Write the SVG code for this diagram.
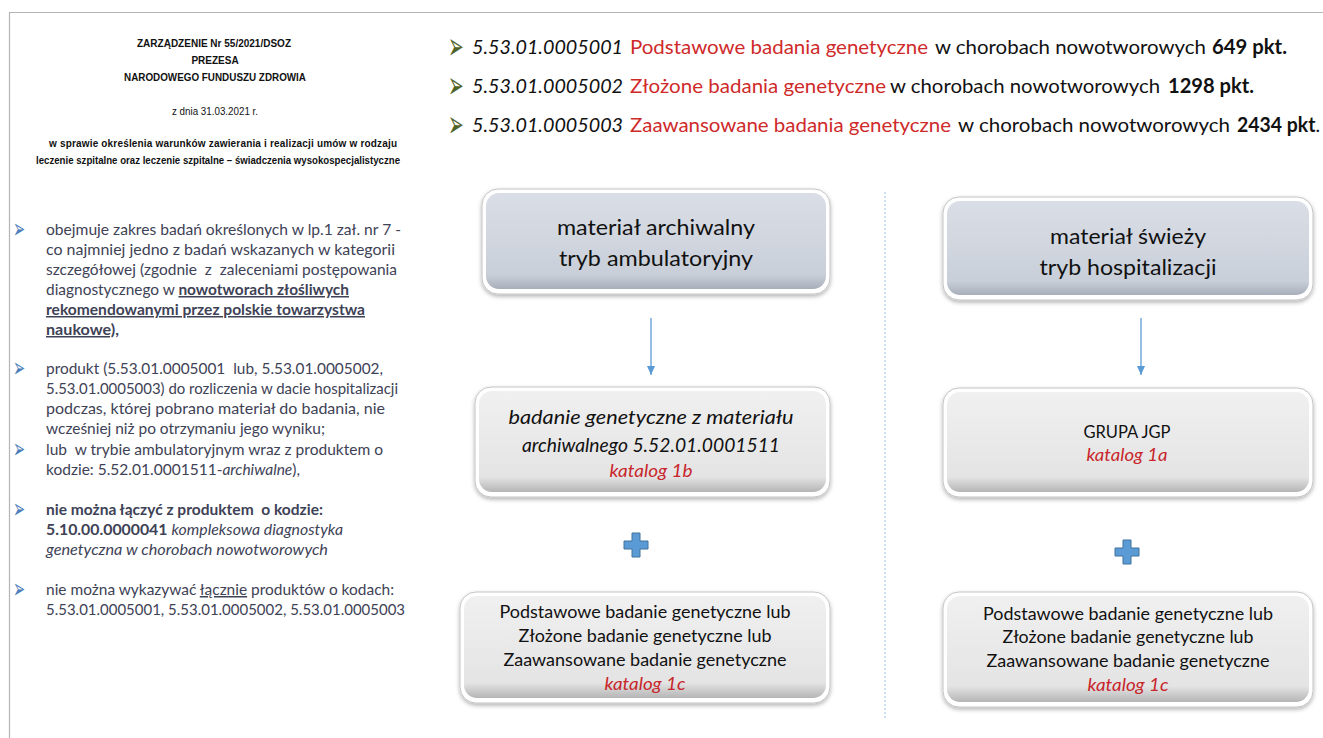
<svg xmlns="http://www.w3.org/2000/svg" width="1323" height="738" viewBox="0 0 1323 738">
<style>
.hdr{font-family:"Liberation Sans",Arial,sans-serif;font-size:10px;font-weight:bold;fill:#111;text-anchor:middle}
.hdrn{font-family:"Liberation Sans",Arial,sans-serif;font-size:10px;fill:#111;text-anchor:middle}
.bl{font-family:Lato,"Open Sans",sans-serif;font-size:15px;fill:#3e4256}
.blt{font-family:"DejaVu Sans",sans-serif;font-size:17px;fill:#4a7ebb}
.gblt{font-family:"DejaVu Sans",sans-serif;font-size:22px;fill:#4f6228}
.top{font-family:Lato,"Open Sans",sans-serif;font-size:20px;fill:#111}
.red{fill:#cf2a2a}
.b{font-weight:bold}
.i{font-style:italic}
.u{text-decoration:underline}
.bx{font-family:Lato,"Open Sans",sans-serif;fill:#111;text-anchor:middle}
.kat{fill:#c8262b;font-style:italic}
.outer{fill:#ffffff;stroke:#c4c4c4;stroke-width:1}
.conn{stroke:#5b9bd5;stroke-width:1.3;fill:none}
.plus{fill:#5b9bd5;stroke:#41719c;stroke-width:1}
</style>
<defs>
<linearGradient id="gBlue" x1="0" y1="0" x2="0" y2="1">
<stop offset="0" stop-color="#dadee6"/><stop offset="0.85" stop-color="#c9cfd9"/><stop offset="1" stop-color="#a9afba"/>
</linearGradient>
<linearGradient id="gGray" x1="0" y1="0" x2="0" y2="1">
<stop offset="0" stop-color="#f0f0f0"/><stop offset="0.85" stop-color="#e4e4e4"/><stop offset="1" stop-color="#b5b5b5"/>
</linearGradient>
<filter id="sh" x="-10%" y="-10%" width="120%" height="130%">
<feDropShadow dx="0" dy="2" stdDeviation="2" flood-color="#000" flood-opacity="0.3"/>
</filter>
<marker id="ah" markerWidth="10" markerHeight="10" refX="9" refY="4" orient="auto" markerUnits="userSpaceOnUse" viewBox="0 0 10 8">
<path d="M0,0 L9,4 L0,8 Z" fill="#5b9bd5"/>
</marker>
</defs>
<rect width="1323" height="738" fill="#ffffff"/>
<path d="M9.5,738 V12.5 H1323" fill="none" stroke="#b4b4b4" stroke-width="1.2"/>

<g id="header">
<text class="hdr" x="214" y="47" textLength="154" lengthAdjust="spacingAndGlyphs">ZARZĄDZENIE Nr 55/2021/DSOZ</text>
<text class="hdr" x="215" y="64">PREZESA</text>
<text class="hdr" x="215" y="81" textLength="182" lengthAdjust="spacingAndGlyphs">NARODOWEGO FUNDUSZU ZDROWIA</text>
<text class="hdrn" x="215" y="115" textLength="86" lengthAdjust="spacingAndGlyphs">z dnia 31.03.2021 r.</text>
<text class="hdr" x="223" y="147" textLength="348" lengthAdjust="spacing">w sprawie określenia warunków zawierania i realizacji umów w rodzaju</text>
<text class="hdr" x="218" y="164" textLength="364" lengthAdjust="spacingAndGlyphs">leczenie szpitalne oraz leczenie szpitalne – świadczenia wysokospecjalistyczne</text>
</g>

<g id="bullets-left">
<text class="blt" transform="translate(13,238) scale(0.85,1.6)">➢</text>
<text class="bl" x="46" y="235" textLength="355" lengthAdjust="spacingAndGlyphs">obejmuje zakres badań określonych w lp.1 zał. nr 7 -</text>
<text class="bl" x="46" y="255" textLength="349" lengthAdjust="spacingAndGlyphs">co najmniej jedno z badań wskazanych w kategorii</text>
<text class="bl" x="46" y="275" textLength="351" lengthAdjust="spacingAndGlyphs" xml:space="preserve">szczegółowej (zgodnie  z  zaleceniami postępowania</text>
<text class="bl" x="46" y="295" textLength="303" lengthAdjust="spacingAndGlyphs">diagnostycznego w <tspan class="b u">nowotworach złośliwych</tspan></text>
<text class="bl b u" x="46" y="315" textLength="319" lengthAdjust="spacingAndGlyphs">rekomendowanymi przez polskie towarzystwa</text>
<text class="bl b u" x="46" y="335" textLength="73" lengthAdjust="spacingAndGlyphs">naukowe),</text>

<text class="blt" transform="translate(13,377) scale(0.85,1.6)">➢</text>
<text class="bl" x="46" y="374" textLength="337" lengthAdjust="spacingAndGlyphs" xml:space="preserve">produkt (5.53.01.0005001  lub, 5.53.01.0005002,</text>
<text class="bl" x="46" y="394" textLength="352" lengthAdjust="spacingAndGlyphs">5.53.01.0005003) do rozliczenia w dacie hospitalizacji</text>
<text class="bl" x="46" y="414" textLength="339" lengthAdjust="spacingAndGlyphs">podczas, której pobrano materiał do badania, nie</text>
<text class="bl" x="46" y="434" textLength="279" lengthAdjust="spacingAndGlyphs">wcześniej niż po otrzymaniu jego wyniku;</text>
<text class="blt" transform="translate(13,458) scale(0.85,1.6)">➢</text>
<text class="bl" x="46" y="455" textLength="337" lengthAdjust="spacingAndGlyphs" xml:space="preserve">lub  w trybie ambulatoryjnym wraz z produktem o</text>
<text class="bl" x="46" y="475" textLength="254" lengthAdjust="spacingAndGlyphs">kodzie: 5.52.01.0001511-<tspan class="i">archiwalne</tspan>),</text>

<text class="blt" transform="translate(13,518) scale(0.85,1.6)">➢</text>
<text class="bl b" x="46" y="515" textLength="277" lengthAdjust="spacingAndGlyphs" xml:space="preserve">nie można łączyć z produktem  o kodzie:</text>
<text class="bl" x="46" y="535" textLength="297" lengthAdjust="spacingAndGlyphs"><tspan class="b">5.10.00.0000041</tspan> <tspan class="i">kompleksowa diagnostyka</tspan></text>
<text class="bl i" x="46" y="555" textLength="282" lengthAdjust="spacingAndGlyphs">genetyczna w chorobach nowotworowych</text>

<text class="blt" transform="translate(13,598) scale(0.85,1.6)">➢</text>
<text class="bl" x="46" y="595" textLength="348" lengthAdjust="spacingAndGlyphs">nie można wykazywać <tspan class="u">łącznie</tspan> produktów o kodach:</text>
<text class="bl" x="46" y="615" textLength="359" lengthAdjust="spacingAndGlyphs">5.53.01.0005001, 5.53.01.0005002, 5.53.01.0005003</text>
</g>

<g id="codes-top">
<text class="gblt" transform="translate(448,59) scale(0.85,1.7)">➢</text>
<text class="top i" x="472" y="54" textLength="151" lengthAdjust="spacingAndGlyphs">5.53.01.0005001</text>
<text class="top red" x="630" y="54" textLength="298" lengthAdjust="spacingAndGlyphs">Podstawowe badania genetyczne</text>
<text class="top" x="935" y="54" textLength="271" lengthAdjust="spacingAndGlyphs">w chorobach nowotworowych</text>
<text class="top b" x="1212" y="54" textLength="75" lengthAdjust="spacingAndGlyphs">649 pkt.</text>

<text class="gblt" transform="translate(448,98) scale(0.85,1.7)">➢</text>
<text class="top i" x="472" y="93" textLength="151" lengthAdjust="spacingAndGlyphs">5.53.01.0005002</text>
<text class="top red" x="630" y="93" textLength="256" lengthAdjust="spacingAndGlyphs">Złożone badania genetyczne</text>
<text class="top" x="890" y="93" textLength="270" lengthAdjust="spacingAndGlyphs">w chorobach nowotworowych</text>
<text class="top b" x="1168" y="93" textLength="86" lengthAdjust="spacingAndGlyphs">1298 pkt.</text>

<text class="gblt" transform="translate(448,137) scale(0.85,1.7)">➢</text>
<text class="top i" x="472" y="132" textLength="151" lengthAdjust="spacingAndGlyphs">5.53.01.0005003</text>
<text class="top red" x="630" y="132" textLength="321" lengthAdjust="spacingAndGlyphs">Zaawansowane badania genetyczne</text>
<text class="top" x="958" y="132" textLength="272" lengthAdjust="spacingAndGlyphs">w chorobach nowotworowych</text>
<text class="top" x="1237" y="132" textLength="83" lengthAdjust="spacingAndGlyphs"><tspan class="b">2434 pkt</tspan>.</text>
</g>

<line id="divider" x1="885" y1="192" x2="885" y2="718" stroke="#9dc3e6" stroke-width="1" stroke-dasharray="2,2"/>

<g id="connectors">
<line class="conn" x1="651" y1="318" x2="651" y2="375" marker-end="url(#ah)"/>
<line class="conn" x1="1141" y1="318" x2="1141" y2="375" marker-end="url(#ah)"/>
</g>

<g id="node-archiwalny">
<rect class="outer" x="482" y="189" width="348" height="105" rx="16" filter="url(#sh)"/>
<rect x="486" y="193" width="340" height="96" rx="13" fill="url(#gBlue)"/>
<text class="bx" font-size="22" x="656" y="235" textLength="198" lengthAdjust="spacingAndGlyphs">materiał archiwalny</text>
<text class="bx" font-size="22" x="656" y="266" textLength="194" lengthAdjust="spacingAndGlyphs">tryb ambulatoryjny</text>
</g>

<g id="node-badanie-archiwalne">
<rect class="outer" x="475" y="387" width="355" height="110" rx="16" filter="url(#sh)"/>
<rect x="479" y="391" width="347" height="101" rx="13" fill="url(#gGray)"/>
<text class="bx i" font-size="20" x="651" y="424" textLength="285" lengthAdjust="spacingAndGlyphs">badanie genetyczne z materiału</text>
<text class="bx i" font-size="20" x="651" y="452" textLength="258" lengthAdjust="spacingAndGlyphs">archiwalnego 5.52.01.0001511</text>
<text class="bx kat" font-size="18" x="651" y="477" textLength="83" lengthAdjust="spacingAndGlyphs">katalog 1b</text>
</g>

<g id="plus-left">
<path class="plus" d="M632,533 h8 v8 h8 v8 h-8 v8 h-8 v-8 h-8 v-8 h8 z"/>
</g>

<g id="node-katalog1c-left">
<rect class="outer" x="460" y="592" width="370" height="111" rx="16" filter="url(#sh)"/>
<rect x="464" y="596" width="362" height="102" rx="13" fill="url(#gGray)"/>
<text class="bx" font-size="18" x="645" y="618" textLength="291" lengthAdjust="spacingAndGlyphs">Podstawowe badanie genetyczne lub</text>
<text class="bx" font-size="18" x="645" y="642" textLength="253" lengthAdjust="spacingAndGlyphs">Złożone badanie genetyczne lub</text>
<text class="bx" font-size="18" x="645" y="666" textLength="283" lengthAdjust="spacingAndGlyphs">Zaawansowane badanie genetyczne</text>
<text class="bx kat" font-size="18" x="645" y="690" textLength="81" lengthAdjust="spacingAndGlyphs">katalog 1c</text>
</g>

<g id="node-swiezy">
<rect class="outer" x="943" y="197" width="370" height="103" rx="16" filter="url(#sh)"/>
<rect x="947" y="201" width="362" height="94" rx="13" fill="url(#gBlue)"/>
<text class="bx" font-size="22" x="1128" y="244" textLength="156" lengthAdjust="spacingAndGlyphs">materiał świeży</text>
<text class="bx" font-size="22" x="1128" y="275" textLength="177" lengthAdjust="spacingAndGlyphs">tryb hospitalizacji</text>
</g>

<g id="node-jgp">
<rect class="outer" x="943" y="388" width="370" height="109" rx="16" filter="url(#sh)"/>
<rect x="947" y="392" width="362" height="100" rx="13" fill="url(#gGray)"/>
<text class="bx" font-size="17" x="1127" y="438" textLength="87" lengthAdjust="spacingAndGlyphs">GRUPA JGP</text>
<text class="bx kat" font-size="18" x="1127" y="461" textLength="81" lengthAdjust="spacingAndGlyphs">katalog 1a</text>
</g>

<g id="plus-right">
<path class="plus" d="M1123,540 h8 v8 h8 v8 h-8 v8 h-8 v-8 h-8 v-8 h8 z"/>
</g>

<g id="node-katalog1c-right">
<rect class="outer" x="943" y="592" width="370" height="115" rx="16" filter="url(#sh)"/>
<rect x="947" y="596" width="362" height="106" rx="13" fill="url(#gGray)"/>
<text class="bx" font-size="18" x="1128" y="620" textLength="290" lengthAdjust="spacingAndGlyphs">Podstawowe badanie genetyczne lub</text>
<text class="bx" font-size="18" x="1128" y="643" textLength="251" lengthAdjust="spacingAndGlyphs">Złożone badanie genetyczne lub</text>
<text class="bx" font-size="18" x="1128" y="667" textLength="283" lengthAdjust="spacingAndGlyphs">Zaawansowane badanie genetyczne</text>
<text class="bx kat" font-size="18" x="1128" y="691" textLength="81" lengthAdjust="spacingAndGlyphs">katalog 1c</text>
</g>
</svg>
